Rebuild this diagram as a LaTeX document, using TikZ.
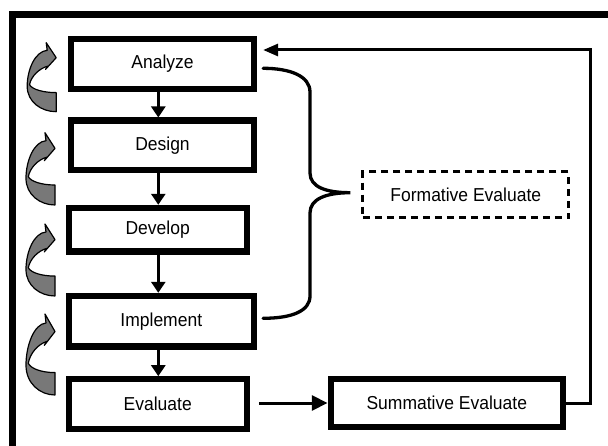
\documentclass[tikz,border=0pt]{standalone}
\usepackage{fontspec}
\setmainfont{Liberation Sans}
\usetikzlibrary{arrows.meta,calc}
\definecolor{arrgray}{gray}{0.47}
\newcommand\vtxt[1]{\scalebox{1}[1.07]{#1}}
\newcommand\garrowshape[3]{%
  \begin{scope}[shift={(#3,#1)}, yscale=#2/72.3]
    \filldraw[fill=arrgray, draw=black, line width=1.2pt, line join=round]
      (55,72.3) .. controls (40,72.3) and (26,62) .. (26,45.7)
      .. controls (26,28) and (34,9) .. (46,8)
      -- (45,0) -- (55,15.7) -- (44.3,28) -- (46.7,24.5)
      .. controls (38,27) and (30,35) .. (28.3,44)
      .. controls (31,49) and (42,52.3) .. (55,52.3)
      -- cycle;
  \end{scope}}
\begin{document}
\begin{tikzpicture}[x=1pt,y=-1pt,
  stage/.style={draw, line width=6.3pt, inner sep=0pt, font=\fontsize{17.5}{20}\selectfont},
  dashedbox/.style={draw, line width=3pt, dash pattern=on 7pt off 5pt, inner sep=0pt, font=\fontsize{17.5}{20}\selectfont},
  vflow/.style={line width=2.6pt, -{Triangle[length=11pt,width=14pt]}},
  conn/.style={line width=3pt, line join=miter},
  brace/.style={line width=3.3pt, line cap=round}]
\useasboundingbox (0,0) rectangle (608,446);
\clip (0,0) rectangle (608,446);
\fill[white] (0,0) rectangle (608,446);
% outer frame (cropped on right and bottom)
\draw[line width=6.5pt, line join=miter] (12.5,470) -- (12.5,14.7) -- (640,14.7);
% stages
\node[stage, minimum width=183pt, minimum height=50pt] (analyze) at (162.5,64) {\vtxt{Analyze}};
\node[stage, minimum width=183pt, minimum height=49.3pt] (design) at (162.5,145.3) {\vtxt{Design}};
\node[stage, minimum width=178pt, minimum height=43.7pt] (develop) at (157.7,229.8) {\vtxt{Develop}};
\node[stage, minimum width=185.3pt, minimum height=50.7pt] (implement) at (161.3,321.3) {\vtxt{Implement}};
\node[stage, minimum width=178pt, minimum height=49.7pt] (evaluate) at (157.7,404.2) {\vtxt{Evaluate}};
\node[stage, minimum width=232.3pt, minimum height=48pt] (summative) at (446.8,403) {\vtxt{Summative Evaluate}};
\node[dashedbox, minimum width=205.7pt, minimum height=46pt] (formative) at (465.8,195) {\vtxt{Formative Evaluate}};
% vertical flow arrows
\coordinate (ax) at (158.3,0);
\draw[vflow] (analyze.south -| ax) -- (design.north -| ax);
\draw[vflow] (design.south -| ax) -- (develop.north -| ax);
\draw[vflow] (develop.south -| ax) -- (implement.north -| ax);
\draw[vflow] (implement.south -| ax) -- (evaluate.north -| ax);
% evaluate -> summative
\draw[conn, -{Triangle[length=15.7pt,width=15pt]}, shorten <=9pt] (evaluate.east |- summative.west) -- (summative.west);
% loop back to analyze
\coordinate (loopc) at (590,50);
\draw[conn, -{Triangle[length=15pt,width=12pt]}, shorten >=6pt] (summative.east) -| (loopc) -- (analyze.east |- loopc);
% brace to formative evaluate
\coordinate (btop) at ($(analyze.east)+(6,4.3)$);
\coordinate (bbot) at ($(implement.east)+(6,-3)$);
\coordinate (btip) at ($(formative.west)+(-11,-2.3)$);
\draw[brace] (btop) .. controls (290,68.3) and (310,76) .. (310,92) -- (310,173)
  .. controls (310,187) and (326,192.7) .. (btip)
  .. controls (326,192.7) and (310,199) .. (310,213) -- (310,296)
  .. controls (310,311) and (292,318.3) .. (bbot);
% curved grey loop arrows
\garrowshape{42.7}{69}{1.2}
\garrowshape{132.7}{72.3}{0}
\garrowshape{224}{72}{0}
\garrowshape{314}{81}{0}
\end{tikzpicture}
\end{document}
